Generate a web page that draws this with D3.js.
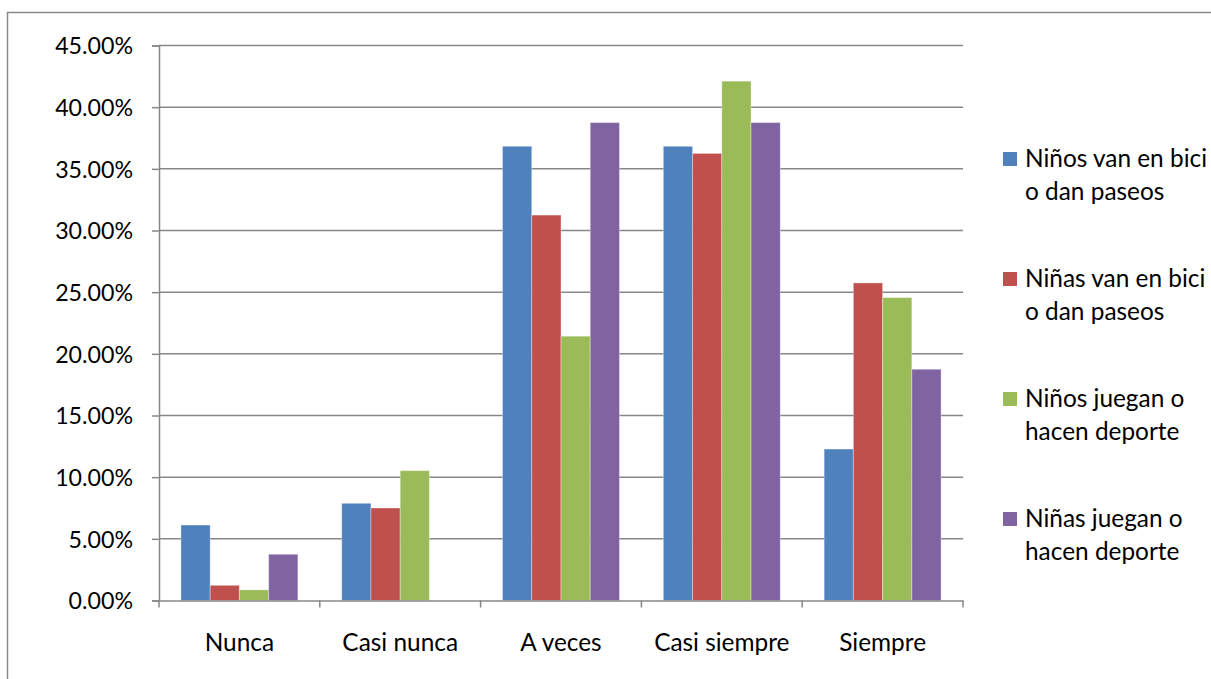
<!DOCTYPE html>
<html>
<head>
<meta charset="utf-8">
<script src="https://cdn.jsdelivr.net/npm/d3@7"></script>
<style>
  html, body { margin: 0; padding: 0; background: #fff; }
  svg { display: block; }
  text { font-family: Lato, "Open Sans", sans-serif; fill: #000; }
</style>
</head>
<body>
<svg id="chart" width="1211" height="679"></svg>
<script>
// ---- data ----
const categories = ["Nunca", "Casi nunca", "A veces", "Casi siempre", "Siempre"];
const seriesNames = [
  "Niños van en bici o dan paseos",
  "Niñas van en bici o dan paseos",
  "Niños juegan o hacen deporte",
  "Niñas juegan o hacen deporte"
];
const legendLines = [
  ["Niños van en bici", "o dan paseos"],
  ["Niñas van en bici", "o dan paseos"],
  ["Niños juegan o", "hacen deporte"],
  ["Niñas juegan o", "hacen deporte"]
];
const ninosBici   = [0.0612, 0.0788, 0.3683, 0.3683, 0.1228];
const ninasBici   = [0.0123, 0.0750, 0.3125, 0.3625, 0.2575];
const ninosJuegan = [0.0086, 0.1053, 0.2143, 0.4211, 0.2456];
const ninasJuegan = [0.0375, 0.0000, 0.3875, 0.3875, 0.1875];
const seriesValues = [ninosBici, ninasBici, ninosJuegan, ninasJuegan];
const yTicks = [0, 0.05, 0.10, 0.15, 0.20, 0.25, 0.30, 0.35, 0.40, 0.45];
const colors = ["#4F81BD", "#C0504D", "#9BBB59", "#8064A2"];

// ---- layout ----
const svg = d3.select("#chart");
const plot = { left: 159, right: 963, top: 45.5, bottom: 600.5 };
const gridColor = "#878787";

// font sizes to mimic Calibri metrics
function sizeFor(str, target) {
  const p = svg.append("text").style("font-size", "100px").text(str);
  const w = p.node().getComputedTextLength();
  p.remove();
  return Math.round(target / w * 100 * 10) / 10;
}
const fsNum = sizeFor("45.00%", 78);
const fsTxt = sizeFor("Niños van en bici", 182);

// outer frame
svg.append("rect")
  .attr("x", 7.5).attr("y", 12.5).attr("width", 1250).attr("height", 720)
  .attr("fill", "none").attr("stroke", "#8a8a8a").attr("stroke-width", 1.5);

const x0 = d3.scaleBand().domain(categories).range([plot.left, plot.right]).paddingInner(0).paddingOuter(0);
const x1 = d3.scaleBand().domain(d3.range(seriesNames.length)).range([0, x0.bandwidth()]).paddingInner(0).paddingOuter(0.75);
const y = d3.scaleLinear().domain([0, 0.45]).range([plot.bottom, plot.top]);

// gridlines
svg.append("g").selectAll("line").data(yTicks.filter(d => d > 0)).join("line")
  .attr("x1", plot.left).attr("x2", plot.right)
  .attr("y1", d => y(d)).attr("y2", d => y(d))
  .attr("stroke", gridColor).attr("stroke-width", 1.5);

// bars
const groups = svg.append("g").selectAll("g").data(categories).join("g")
  .attr("transform", c => `translate(${x0(c)},0)`);
groups.selectAll("rect")
  .data((c, ci) => seriesValues.map((vals, si) => ({ si, v: vals[ci] })))
  .join("rect")
  .attr("x", d => x1(d.si))
  .attr("width", x1.bandwidth())
  .attr("y", d => y(d.v))
  .attr("height", d => y(0) - y(d.v))
  .attr("fill", d => colors[d.si])
  .attr("stroke", "rgba(255,255,255,0.35)")
  .attr("stroke-width", d => d.v > 0 ? 1 : 0);

// y axis
const yAxis = svg.append("g").attr("transform", `translate(${plot.left},0)`)
  .call(d3.axisLeft(y).tickValues(yTicks).tickFormat(d3.format(".2%")).tickSize(7).tickPadding(19));
yAxis.select(".domain").attr("stroke", gridColor).attr("stroke-width", 1.5);
yAxis.selectAll(".tick line").attr("stroke", gridColor).attr("stroke-width", 1.5);
yAxis.selectAll(".tick text").style("font-size", fsNum + "px").style("font-family", "Lato").attr("fill", "#000").attr("dy", "0.36em");

// x axis
const xAxis = svg.append("g").attr("transform", `translate(0,${plot.bottom})`)
  .call(d3.axisBottom(x0).tickSize(0).tickPadding(33));
xAxis.select(".domain").attr("stroke", gridColor).attr("stroke-width", 1.5);
xAxis.selectAll(".tick text").style("font-size", fsTxt + "px").style("font-family", "Lato").attr("fill", "#000");
// category boundary ticks
const edges = categories.map(c => x0(c)).concat([plot.right]);
xAxis.append("g").selectAll("line").data(edges).join("line")
  .attr("x1", d => d).attr("x2", d => d).attr("y1", 0).attr("y2", 7)
  .attr("stroke", gridColor).attr("stroke-width", 1.5);

// legend
const legend = svg.append("g");
const lg = legend.selectAll("g").data(legendLines).join("g")
  .attr("transform", (d, i) => `translate(1003,${152 + i * 120})`);
lg.append("rect").attr("x", 0).attr("y", 0).attr("width", 14).attr("height", 14)
  .attr("fill", (d, i) => colors[i]);
lg.append("text")
  .style("font-size", fsTxt + "px")
  .selectAll("tspan").data(d => d).join("tspan")
  .attr("x", 22).attr("y", (d, j) => 15 + j * 33)
  .text(d => d);
</script>
</body>
</html>
